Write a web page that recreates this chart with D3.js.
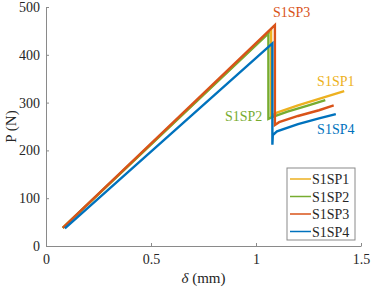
<!DOCTYPE html>
<html>
<head>
<meta charset="utf-8">
<script src="https://cdn.jsdelivr.net/npm/d3@7"></script>
<style>
  body { margin: 0; background: white; }
  text { font-family: "Liberation Serif", serif; fill: #262626; }
</style>
</head>
<body>
<script>
// Chart size
const w = 374;
const h = 289;
const margin = {left: 46, right: 13, top: 7, bottom: 43};
const serif = "'Liberation Serif', serif";

// Series data: [delta (mm), P (N)]
const names = ["S1SP1", "S1SP2", "S1SP3", "S1SP4"];
const colors = ["#EDB120", "#77AC30", "#D95319", "#0072BD"];
const sp1 = [[0.08, 38], [1.072, 451], [1.072, 272], [1.1, 279], [1.2, 294], [1.3, 308], [1.42, 324]];
const sp2 = [[0.08, 38], [1.059, 445], [1.059, 266], [1.08, 270], [1.15, 281], [1.25, 294], [1.33, 305]];
const sp3 = [[0.08, 38], [1.09, 462], [1.09, 253], [1.11, 259], [1.2, 272], [1.3, 284], [1.37, 294]];
const sp4 = [[0.09, 37], [1.078, 424], [1.078, 212], [1.08, 232], [1.1, 240], [1.2, 255], [1.3, 267], [1.38, 276]];
const series = [sp1, sp2, sp3, sp4];

// Tick values
const xTicks = [0, 0.5, 1, 1.5];
const yTicks = [0, 100, 200, 300, 400, 500];

// Text labels near curves
const labelText = ["S1SP3", "S1SP1", "S1SP2", "S1SP4"];
const labelPos = [[1.17, 480], [1.38, 335], [1.03, 261], [1.38, 234]];
const labelColor = [colors[2], colors[0], colors[1], colors[3]];
const labelAnchor = ["middle", "middle", "end", "middle"];

const xScale = d3.scaleLinear()
                 .domain([0, 1.5])
                 .range([margin.left, w - margin.right]);

const yScale = d3.scaleLinear()
                 .domain([0, 500])
                 .range([h - margin.bottom, margin.top]);

const svg = d3.select("body")
              .append("svg")
              .attr("width", w)
              .attr("height", h);

// Axes with inward ticks
const xAxis = d3.axisBottom(xScale)
                .tickValues(xTicks)
                .tickSizeInner(-3)
                .tickSizeOuter(0)
                .tickPadding(8)
                .tickFormat(d => d);

const yAxis = d3.axisLeft(yScale)
                .tickValues(yTicks)
                .tickSizeInner(-3)
                .tickSizeOuter(0)
                .tickPadding(6);

const gx = svg.append("g")
   .attr("transform", "translate(0," + (h - margin.bottom) + ")")
   .call(xAxis);

const gy = svg.append("g")
   .attr("transform", "translate(" + margin.left + ",0)")
   .call(yAxis);

[gx, gy].forEach(function (g) {
  g.attr("font-family", serif);
  g.selectAll("path, line").attr("stroke", "#8a8a8a");
  g.selectAll("text")
   .style("font-family", serif)
   .style("font-size", "14px")
   .attr("fill", "#262626");
});

// Lines
const line = d3.line()
               .x(d => xScale(d[0]))
               .y(d => yScale(d[1]));

series.forEach(function (s, i) {
  svg.append("path")
     .datum(s)
     .attr("fill", "none")
     .attr("stroke", colors[i])
     .attr("stroke-width", 2.4)
     .attr("d", line);
});

// Curve labels
labelText.forEach(function (t, i) {
  svg.append("text")
     .attr("x", xScale(labelPos[i][0]))
     .attr("y", yScale(labelPos[i][1]))
     .attr("text-anchor", labelAnchor[i])
     .style("font-size", "14px")
     .style("fill", labelColor[i])
     .text(t);
});

// Axis titles
svg.append("text")
   .attr("transform", "translate(16," + ((margin.top + h - margin.bottom) / 2) + ") rotate(-90)")
   .attr("text-anchor", "middle")
   .style("font-size", "15px")
   .text("P (N)");

svg.append("text")
   .attr("x", (margin.left + w - margin.right) / 2)
   .attr("y", h - 6)
   .attr("text-anchor", "middle")
   .style("font-size", "15px")
   .html("<tspan font-style='italic'>δ</tspan> (mm)");

// Legend
const legend = svg.append("g").attr("transform", "translate(287,168)");
legend.append("rect")
      .attr("width", 68)
      .attr("height", 72)
      .attr("fill", "white")
      .attr("stroke", "#8a8a8a")
      .attr("stroke-width", 1);

names.forEach(function (n, i) {
  const yy = 11 + i * 17.5;
  legend.append("line")
        .attr("x1", 3).attr("x2", 24)
        .attr("y1", yy).attr("y2", yy)
        .attr("stroke", colors[i])
        .attr("stroke-width", 1.5);
  legend.append("text")
        .attr("x", 25)
        .attr("y", yy + 5)
        .style("font-size", "14px")
        .text(n);
});
</script>
</body>
</html>
